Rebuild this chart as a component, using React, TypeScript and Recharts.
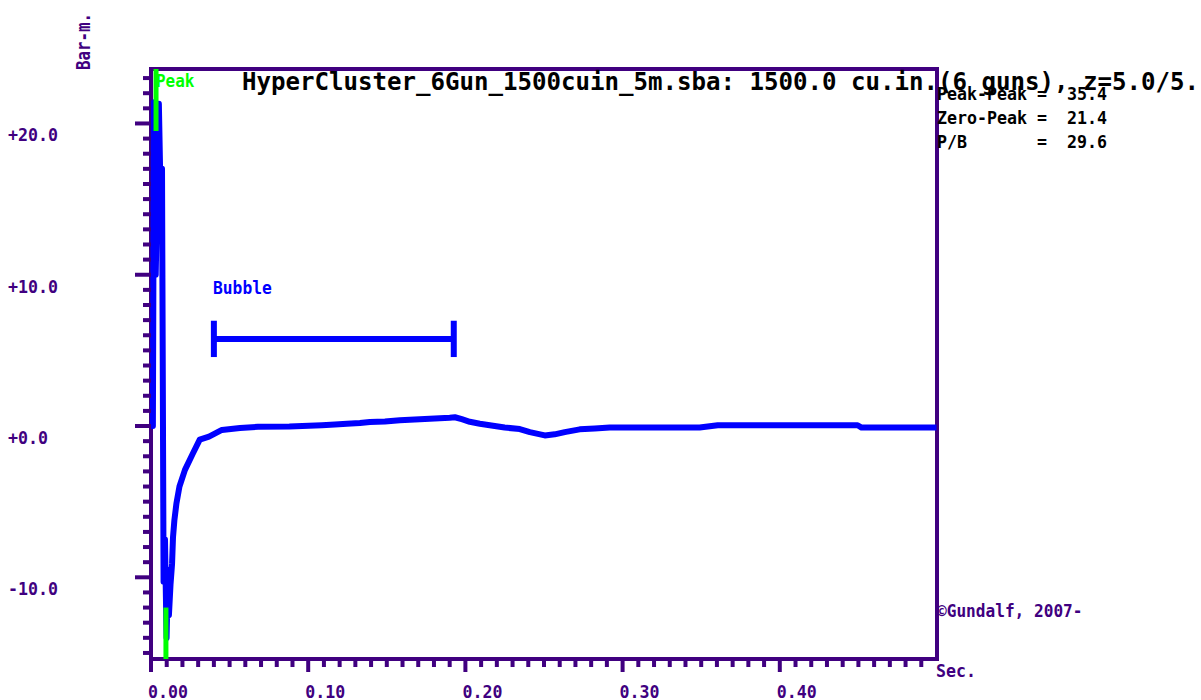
import React from "react";
import { LineChart, Line, XAxis, YAxis, ReferenceLine, ReferenceArea } from "recharts";

const AXIS = "#400080";
const BLUE = "#0000ff";
const GREEN = "#00ff00";
const INK = "#000000";
const FONT = "'DejaVu Sans Mono', 'Liberation Mono', monospace";

// Far-field signature: time (s) and pressure (bar-m)
const times = [
  0, 0.0012, 0.0019, 0.003, 0.005, 0.0062, 0.007, 0.008, 0.0089, 0.0099,
  0.0108, 0.0114, 0.0124, 0.0134, 0.014, 0.0149, 0.0162, 0.0181, 0.0216, 0.0267,
  0.031, 0.0369, 0.0451, 0.0566, 0.068, 0.088, 0.1087, 0.117, 0.1246, 0.1329,
  0.1392, 0.1488, 0.1583, 0.171, 0.1805, 0.19, 0.1933, 0.1977, 0.2028, 0.2092,
  0.2155, 0.225, 0.2346, 0.241, 0.2505, 0.2568, 0.2632, 0.2727, 0.2823, 0.2918,
  0.349, 0.3605, 0.4126, 0.4495, 0.452, 0.4997,
];
const pressure = [
  0, 0, 21.4, 10.0, 21.3, 14.7, 17.0, -10.3, -7.5, -14.0,
  -9.5, -12.5, -10.5, -9.1, -7.35, -6.2, -5.1, -4.0, -2.9, -1.8,
  -0.9, -0.7, -0.26, -0.13, -0.05, -0.03, 0.05, 0.1, 0.15, 0.2,
  0.27, 0.3, 0.38, 0.45, 0.5, 0.55, 0.58, 0.45, 0.28, 0.15,
  0.05, -0.1, -0.2, -0.4, -0.62, -0.55, -0.4, -0.22, -0.17, -0.1,
  -0.1, 0.05, 0.05, 0.05, -0.1, -0.1,
];
const signature = times.map((t, i) => ({ t, p: pressure[i] }));

// Axes
const X_MIN = 0;
const X_MAX = 0.5;
const Y_MIN = -15.4;
const Y_MAX = 23.6;
const xMinorTicks = Array.from({ length: 50 }, (_, i) => i / 100);
const xLabelTicks = [0, 0.1, 0.2, 0.3, 0.4];
const xLabels = ["0.00", "0.10", "0.20", "0.30", "0.40"];
const yMinorTicks = Array.from({ length: 39 }, (_, i) => i - 15);
const yLabelTicks = [-10, 0, 10, 20];
const yLabels = ["-10.0", "+0.0", "+10.0", "+20.0"];

// Peak markers and bubble period bracket
const peakTime = 0.0032;
const peakMarkerEnd = 19.5;
const troughTime = 0.0095;
const troughMarkerEnd = -12.0;
const bubbleStart = 0.04;
const bubbleEnd = 0.1926;
const bubbleLevel = 5.76;
const bubbleCap = 1.2;

// Summary figures
const statNames = ["Peak-Peak", "Zero-Peak", "P/B"];
const statValues = ["35.4", "21.4", "29.6"];

const titleText = "HyperCluster_6Gun_1500cuin_5m.sba: 1500.0 cu.in.(6 guns), z=5.0/5.";

const near = (a: number, b: number) => Math.abs(a - b) < 1e-6;

function Txt(props: {
  x: number;
  y: number;
  text: string;
  fill: string;
  size?: number;
  charW?: number;
  transform?: string;
}) {
  const { x, y, text, fill, size = 18, charW = 10, transform } = props;
  return (
    <text
      x={x}
      y={y}
      fill={fill}
      fontFamily={FONT}
      fontWeight="bold"
      fontSize={size}
      textLength={text.length * charW}
      lengthAdjust="spacingAndGlyphs"
      transform={transform}
      style={{ whiteSpace: "pre" }}
    >
      {text}
    </text>
  );
}

const XTick = (props: any) => {
  const { x, y, payload } = props;
  const v = payload.value as number;
  const idx = xLabelTicks.findIndex((m) => near(m, v));
  const major = idx >= 0;
  return (
    <g>
      <line x1={x} x2={x} y1={y} y2={y + (major ? 13 : 8)} stroke={AXIS} strokeWidth={4} />
      {major && <Txt x={x - 3} y={y + 39} text={xLabels[idx]} fill={AXIS} />}
    </g>
  );
};

const YTick = (props: any) => {
  const { x, y, payload } = props;
  const v = payload.value as number;
  const idx = yLabelTicks.findIndex((m) => near(m, v));
  const major = idx >= 0;
  return (
    <g>
      <line x1={x - (major ? 16 : 8)} x2={x} y1={y} y2={y} stroke={AXIS} strokeWidth={4} />
      {major && <Txt x={x - 143} y={y + 18} text={yLabels[idx]} fill={AXIS} />}
    </g>
  );
};

export default function App() {
  return (
    <div style={{ position: "absolute", left: 0, top: 0, width: 1201, height: 700, background: "#fff" }}>
      <LineChart
        width={1201}
        height={700}
        data={signature}
        margin={{ top: 69, right: 264, bottom: 40, left: 150 }}
      >
        <XAxis
          dataKey="t"
          type="number"
          domain={[X_MIN, X_MAX]}
          ticks={xMinorTicks}
          interval={0}
          height={1}
          tickSize={0}
          tickMargin={0}
          tickLine={false}
          axisLine={false}
          tick={<XTick />}
        />
        <YAxis
          type="number"
          domain={[Y_MIN, Y_MAX]}
          ticks={yMinorTicks}
          interval={0}
          width={1}
          tickSize={0}
          tickMargin={0}
          tickLine={false}
          axisLine={false}
          tick={<YTick />}
        />
        <ReferenceArea
          x1={X_MIN}
          x2={X_MAX}
          y1={Y_MIN}
          y2={Y_MAX}
          fill="none"
          fillOpacity={0}
          stroke={AXIS}
          strokeWidth={4}
          strokeOpacity={1}
        />
        <Line
          dataKey="p"
          type="linear"
          stroke={BLUE}
          strokeWidth={6}
          strokeLinejoin="round"
          dot={false}
          activeDot={false}
          isAnimationActive={false}
        />
        <ReferenceLine
          segment={[{ x: peakTime, y: Y_MAX }, { x: peakTime, y: peakMarkerEnd }]}
          stroke={GREEN}
          strokeWidth={5}
        />
        <ReferenceLine
          segment={[{ x: troughTime, y: Y_MIN }, { x: troughTime, y: troughMarkerEnd }]}
          stroke={GREEN}
          strokeWidth={5}
        />
        <ReferenceLine
          segment={[{ x: bubbleStart, y: bubbleLevel }, { x: bubbleEnd, y: bubbleLevel }]}
          stroke={BLUE}
          strokeWidth={6}
        />
        <ReferenceLine
          segment={[{ x: bubbleStart, y: bubbleLevel - bubbleCap }, { x: bubbleStart, y: bubbleLevel + bubbleCap }]}
          stroke={BLUE}
          strokeWidth={6}
        />
        <ReferenceLine
          segment={[{ x: bubbleEnd, y: bubbleLevel - bubbleCap }, { x: bubbleEnd, y: bubbleLevel + bubbleCap }]}
          stroke={BLUE}
          strokeWidth={6}
        />
      </LineChart>
      <svg
        width={1201}
        height={700}
        style={{ position: "absolute", left: 0, top: 0, pointerEvents: "none" }}
      >
        <Txt x={90} y={70} text="Bar-m." fill={AXIS} size={19} charW={9.5} transform="rotate(-90 90 70)" />
        {statNames.map((n, i) => (
          <Txt
            key={n}
            x={937}
            y={100 + i * 24}
            text={`${n.padEnd(10)}=  ${statValues[i]}`}
            fill={INK}
          />
        ))}
        <Txt x={242} y={90} text={titleText} fill={INK} size={24} charW={14.5} />
        <Txt x={156} y={87} text="Peak" fill={GREEN} charW={9.6} />
        <Txt x={213} y={294} text="Bubble" fill={BLUE} charW={9.8} />
        <Txt x={937} y={617} text="©Gundalf, 2007-" fill={AXIS} charW={9.7} />
        <Txt x={936} y={677} text="Sec." fill={AXIS} />
      </svg>
    </div>
  );
}
